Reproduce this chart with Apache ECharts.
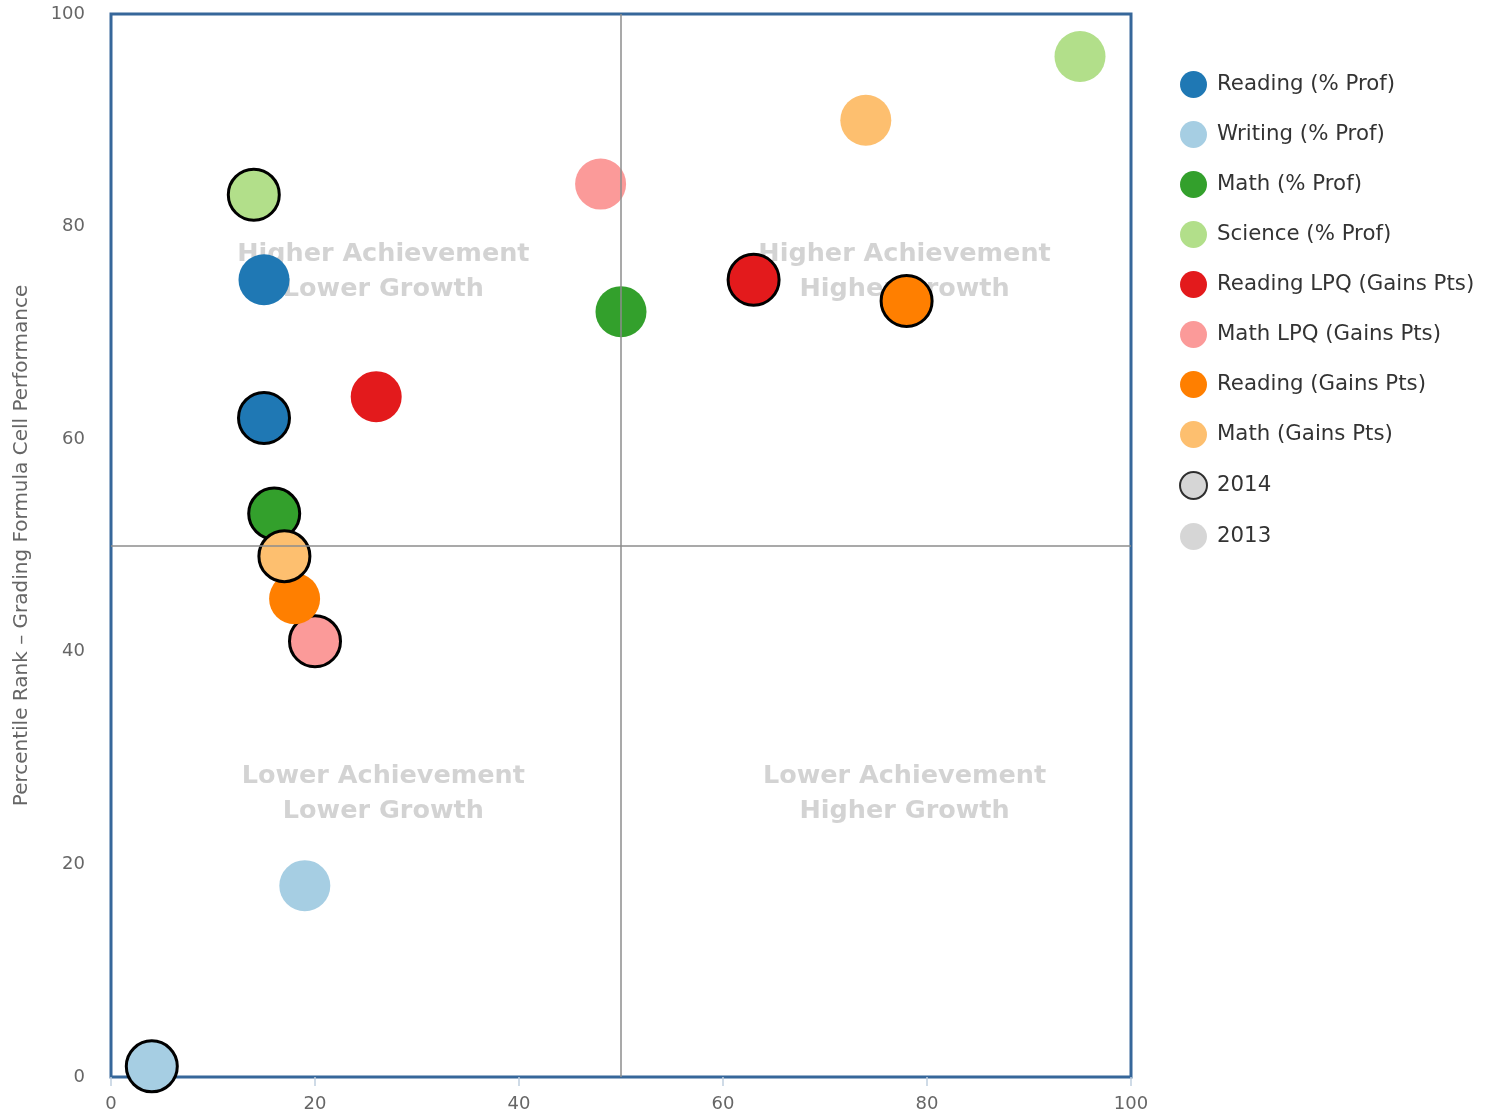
<!DOCTYPE html>
<html>
<head>
<meta charset="utf-8">
<script src="https://cdn.jsdelivr.net/npm/echarts@6/dist/echarts.min.js"></script>
<style>
html,body{margin:0;padding:0;background:#fff;}
#chart{width:1488px;height:1114px;}
</style>
</head>
<body>
<div id="chart"></div>
<script>
// Subjects (series names) and colours
const subjects = ['Reading (% Prof)','Writing (% Prof)','Math (% Prof)','Science (% Prof)',
  'Reading LPQ (Gains Pts)','Math LPQ (Gains Pts)','Reading (Gains Pts)','Math (Gains Pts)'];
const colors = ['#1f78b4','#a6cee3','#33a02c','#b2df8a','#e31a1c','#fb9a99','#ff7f00','#fdbf6f'];
// [growth percentile, achievement percentile] per subject
const values2014 = [[15,62],[4,1],[16,53],[14,83],[63,75],[20,41],[78,73],[17,49]];
const values2013 = [[15,75],[19,18],[50,72],[95,96],[26,64],[48,84],[18,45],[74,90]];
const years = ['2014','2013'];
// Quadrant label anchors and texts
const quadrantPoints = [[26.7,75.7],[77.8,75.7],[26.7,26.6],[77.8,26.6]];
const quadrantTexts = ['Higher Achievement\nLower Growth','Higher Achievement\nHigher Growth',
  'Lower Achievement\nLower Growth','Lower Achievement\nHigher Growth'];
const xTicks = {min:0,max:100,interval:20};
const yTicks = {min:0,max:100,interval:20};

const FONT = 'DejaVu Sans';
const series = [];
series.push({
  name:'quadrants', type:'scatter', symbolSize:0, silent:true, z:1,
  data: quadrantPoints.map((p,i)=>({value:p, label:{formatter:quadrantTexts[i]}})),
  label:{show:true, position:'inside', color:'#c8c8c8', fontSize:25.5, fontWeight:'bold',
    fontFamily:FONT, lineHeight:35, align:'center', verticalAlign:'middle'},
  markLine:{silent:true, symbol:'none', label:{show:false},
    lineStyle:{color:'#8c8c8c', width:1.5, type:'solid'},
    data:[{xAxis:50},{yAxis:50}]}
});
subjects.forEach((name,i)=>{
  series.push({
    name:name, type:'scatter', symbol:'circle', symbolSize:51, z:3,
    itemStyle:{color:colors[i], opacity:1},
    emphasis:{disabled:true},
    data:[
      {value:values2013[i]},
      {value:values2014[i], itemStyle:{borderColor:'#000', borderWidth:3}}
    ]
  });
});
series.push({name:years[0], type:'scatter', data:[], itemStyle:{color:'#cccccc', borderColor:'#000', borderWidth:3}});
series.push({name:years[1], type:'scatter', data:[], itemStyle:{color:'#cccccc'}});

const chart = echarts.init(document.getElementById('chart'));
chart.setOption({
  animation:false,
  textStyle:{fontFamily:FONT},
  grid:{left:111, top:14, right:357, bottom:37, show:true, borderColor:'#36679a', borderWidth:3,
    backgroundColor:'#fff', containLabel:false, outerBoundsMode:'none'},
  legend:{
    orient:'vertical', left:1174, top:66, itemGap:23, itemWidth:27, itemHeight:27, icon:'circle',
    data: subjects.concat(years),
    textStyle:{fontSize:21.3, color:'#333', fontFamily:FONT, padding:[0,0,0,5]},
    selectedMode:false
  },
  xAxis:{type:'value', min:xTicks.min, max:xTicks.max, interval:xTicks.interval,
    axisLine:{show:false}, splitLine:{show:false},
    axisTick:{show:true, length:9, lineStyle:{color:'#c0cfe0', width:1.5}},
    axisLabel:{fontSize:18, color:'#666', margin:18, fontFamily:FONT}},
  yAxis:{type:'value', min:yTicks.min, max:yTicks.max, interval:yTicks.interval,
    name:'Percentile Rank – Grading Formula Cell Performance', nameLocation:'middle', nameGap:79,
    nameTextStyle:{fontSize:20, color:'#666', fontFamily:FONT},
    axisLine:{show:false}, splitLine:{show:false}, axisTick:{show:false},
    axisLabel:{fontSize:18, color:'#666', margin:26, fontFamily:FONT, padding:[5,0,0,0]}},
  series:series
});
</script>
</body>
</html>
